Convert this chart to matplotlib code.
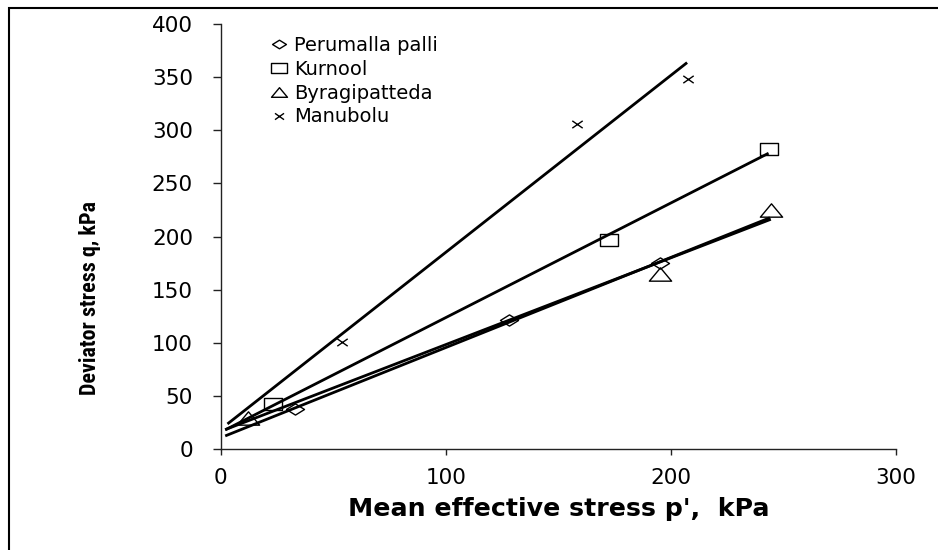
import numpy as np
import matplotlib
matplotlib.use("Agg")
import matplotlib.pyplot as plt
from matplotlib.path import Path
from matplotlib.lines import Line2D
from matplotlib.patches import Rectangle
from matplotlib import font_manager

# ---- data ----
series_names = ["Perumalla palli", "Kurnool", "Byragipatteda", "Manubolu"]
perumalla_p = [33, 128, 195]
perumalla_q = [38, 121.5, 175]
kurnool_p = [23.4, 172.7, 243.4]
kurnool_q = [43, 197, 282]
byragi_p = [12, 195, 244.4]
byragi_q = [29, 165, 225]
manubolu_p = [53.8, 158.2, 207.8]
manubolu_q = [100.7, 306, 348.5]
# trendline ranges (x from, x to)
trend_from = [2, 2, 2, 3]
trend_to = [244, 243.4, 244.4, 207.2]

x_ticks = [0, 100, 200, 300]
y_ticks = [0, 50, 100, 150, 200, 250, 300, 350, 400]

# ---- stretched marker shapes ----
diamond = Path([(-1, 0), (0, 0.62), (1, 0), (0, -0.62), (-1, 0)],
               [Path.MOVETO, Path.LINETO, Path.LINETO, Path.LINETO, Path.CLOSEPOLY])
square = Path([(-1, -0.62), (1, -0.62), (1, 0.62), (-1, 0.62), (-1, -0.62)],
              [Path.MOVETO, Path.LINETO, Path.LINETO, Path.LINETO, Path.CLOSEPOLY])
triangle = Path([(-1, -0.6), (1, -0.6), (0, 0.6), (-1, -0.6)],
                [Path.MOVETO, Path.LINETO, Path.LINETO, Path.CLOSEPOLY])
cross = Path([(-1, -0.7), (1, 0.7), (-1, 0.7), (1, -0.7)],
             [Path.MOVETO, Path.LINETO, Path.MOVETO, Path.LINETO])

markers = [diamond, square, triangle, cross]
msizes = [13, 13, 16, 7.5]
legend_msizes = [10, 11, 11.5, 6.5]
xs = [perumalla_p, kurnool_p, byragi_p, manubolu_p]
ys = [perumalla_q, kurnool_q, byragi_q, manubolu_q]

# choose a condensed bold face for the y label if one is installed
names = {f.name for f in font_manager.fontManager.ttflist}
ylab_family = None
for cand in ["Liberation Sans Narrow", "DejaVu Sans Condensed", "Roboto Condensed",
             "Open Sans Condensed", "Noto Sans Condensed"]:
    if cand in names:
        ylab_family = cand
        break
condensed_faces = [f for f in font_manager.fontManager.ttflist
                   if f.stretch in ("condensed", "semi-condensed", "extra-condensed")]
if ylab_family is None and condensed_faces:
    ylab_family = condensed_faces[0].name
if ylab_family is None:
    ylab_family = "Liberation Sans"
    ylab_size = 13.5
else:
    ylab_size = 15.8

fig = plt.figure(figsize=(9.38, 5.5), dpi=100)
ax = fig.add_axes([0.2353, 0.1831, 0.7199, 0.7733])

for i in range(4):
    x = np.array(xs[i], dtype=float)
    y = np.array(ys[i], dtype=float)
    slope, icpt = np.polyfit(x, y, 1)
    xl = np.array([trend_from[i], trend_to[i]])
    ax.plot(xl, slope * xl + icpt, color="black", lw=2.0, solid_capstyle="butt", zorder=2)
    ax.plot(x, y, linestyle="none", marker=markers[i], markersize=msizes[i],
            markerfacecolor="none" if i < 3 else "black", markeredgecolor="black",
            markeredgewidth=1.0, zorder=3)

ax.set_xlim(0, 300)
ax.set_ylim(0, 400)
ax.set_xticks(x_ticks)
ax.set_yticks(y_ticks)
ax.spines["top"].set_visible(False)
ax.spines["right"].set_visible(False)
for s in ("left", "bottom"):
    ax.spines[s].set_linewidth(1.0)
    ax.spines[s].set_color("#222222")
ax.tick_params(axis="y", direction="out", length=6, width=1, color="#222222",
               pad=14, labelsize=15.5)
ax.tick_params(axis="x", direction="out", length=4.5, width=1, color="#222222",
               pad=9, labelsize=15.5)
for lab in ax.get_xticklabels() + ax.get_yticklabels():
    lab.set_fontfamily("DejaVu Sans")

ax.set_xlabel("Mean effective stress p',  kPa", fontsize=18.2, fontweight="bold",
              family="DejaVu Sans")
ax.xaxis.set_label_coords(0.5, -0.113)
ax.set_ylabel("Deviator stress q, kPa", fontsize=ylab_size, fontweight="bold",
              family=[ylab_family, "DejaVu Sans"])
ax.yaxis.set_label_coords(-0.177, 0.356)

handles = [Line2D([], [], linestyle="none", marker=markers[i], markersize=legend_msizes[i],
                  markerfacecolor="none" if i < 3 else "black", markeredgecolor="black",
                  markeredgewidth=1.0) for i in range(4)]
leg = ax.legend(handles, series_names, loc="upper left", bbox_to_anchor=(0.0715, 0.972),
                frameon=False, handlelength=1.0, handletextpad=0.3, labelspacing=0.25,
                borderpad=0, borderaxespad=0, prop={"family": "DejaVu Sans", "size": 14})

# outer frame (extends past right and bottom edges)
fig.patches.append(Rectangle((8.5 / 938, -0.1), 1.2, 1 - 7.5 / 550 + 0.1,
                             transform=fig.transFigure, fill=False, edgecolor="black",
                             linewidth=1.5, clip_on=False))

fig.savefig("out.png", dpi=100)
